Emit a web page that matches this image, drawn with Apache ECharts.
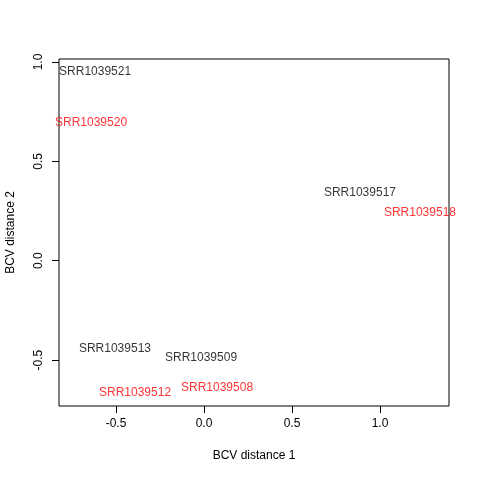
<!DOCTYPE html>
<html><head><meta charset="utf-8">
<script src="https://cdn.jsdelivr.net/npm/echarts@6/dist/echarts.min.js"></script>
<style>html,body{margin:0;background:#fff}#c{width:480px;height:480px}</style>
</head><body><div id="c"></div>
<script>
// MDS sample positions
var samples = ['SRR1039521','SRR1039520','SRR1039517','SRR1039518','SRR1039513','SRR1039509','SRR1039512','SRR1039508'];
var dim1 = [-0.619, -0.642, 0.886, 1.227, -0.506, -0.017, -0.392, 0.074];
var dim2 = [0.950, 0.693, 0.342, 0.241, -0.442, -0.487, -0.663, -0.638];
var colors = ['#000','red','#000','red','#000','#000','red','red'];
var xTicks = [-0.5, 0, 0.5, 1];
var yTicks = [-0.5, 0, 0.5, 1];

var pts = samples.map(function(s, i){
  return {value:[dim1[i], dim2[i]], name:s, label:{color:colors[i]}};
});
var font = 'Liberation Sans, Arial, sans-serif';
var fmt = function(v){return v===0?'0.0':v.toFixed(1);};
var chart = echarts.init(document.getElementById('c'));
chart.setOption({
  animation:false,
  grid:{left:59,right:31,top:59,bottom:74,show:true,borderColor:'#000',borderWidth:1,containLabel:false,outerBoundsMode:'none'},
  xAxis:{type:'value',min:-0.824,max:1.392,
    axisLine:{show:false,onZero:false},splitLine:{show:false},
    axisTick:{show:true,length:7,customValues:xTicks,lineStyle:{color:'#000'}},
    axisLabel:{customValues:xTicks,color:'#000',fontSize:12,fontFamily:font,margin:12,formatter:fmt},
    name:'BCV distance 1',nameLocation:'middle',nameGap:44,
    nameTextStyle:{color:'#000',fontSize:12,fontFamily:font}},
  yAxis:{type:'value',min:-0.731,max:1.015,
    axisLine:{show:false,onZero:false},splitLine:{show:false},
    axisTick:{show:true,length:7,customValues:yTicks,lineStyle:{color:'#000'}},
    axisLabel:{customValues:yTicks,color:'#000',fontSize:12,fontFamily:font,rotate:90,margin:14,formatter:fmt},
    name:'BCV distance 2',nameLocation:'middle',nameGap:42,
    nameTextStyle:{color:'#000',fontSize:12,fontFamily:font}},
  series:[{type:'scatter',symbolSize:0,clip:true,data:pts,
    label:{show:true,position:'inside',formatter:'{b}',fontSize:12,fontFamily:font}}]
});
</script></body></html>
